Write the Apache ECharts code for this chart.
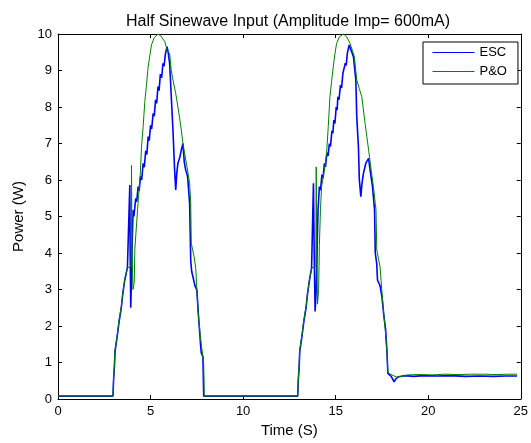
<!DOCTYPE html>
<html>
<head>
<meta charset="utf-8">
<script src="https://cdn.jsdelivr.net/npm/echarts@6/dist/echarts.min.js"></script>
<style>
html,body{margin:0;padding:0;background:#fff;}
#chart{width:531px;height:443px;}
</style>
</head>
<body>
<div id="chart"></div>
<script>
const titleText = 'Half Sinewave Input (Amplitude Imp= 600mA)';
const xName = 'Time (S)';
const yName = 'Power (W)';
const seriesNames = ['ESC', 'P&O'];
const xTicks = [0, 5, 10, 15, 20, 25];
const yTicks = [0, 1, 2, 3, 4, 5, 6, 7, 8, 9, 10];

// ESC (blue) – [time, power]
const escPoints = [
  [0,0.08],[2.97,0.08],[3.0,0.5],[3.05,0.9],[3.08,1.3],[3.2,1.72],[3.3,2.12],[3.42,2.5],[3.5,2.88],[3.6,3.24],[3.75,3.6],[3.85,3.62],
  [3.88,5.86],[3.9,4.0],[3.93,2.5],[3.97,3.3],[4.02,4.5],[4.06,5.18],[4.1,5.0],[4.2,5.5],[4.25,5.4],[4.33,5.82],[4.38,5.7],[4.46,6.1],[4.52,6.0],
  [4.6,6.46],[4.66,6.35],[4.74,6.8],[4.8,6.7],[4.87,7.19],[4.93,7.08],[5.0,7.5],[5.06,7.4],[5.14,7.83],[5.2,7.75],[5.27,8.2],[5.33,8.1],
  [5.4,8.56],[5.46,8.45],[5.53,8.9],[5.6,8.8],[5.67,9.2],[5.73,9.12],[5.8,9.45],[5.89,9.65],[5.95,9.5],[6.03,9.2],[6.12,8.28],[6.21,7.37],
  [6.3,6.27],[6.36,5.73],[6.42,6.2],[6.48,6.46],[6.57,6.6],[6.66,6.82],[6.75,7.0],[6.82,6.5],[6.9,6.27],[7.0,6.1],[7.11,5.37],
  [7.17,3.8],[7.22,3.5],[7.29,3.35],[7.4,3.1],[7.5,2.99],[7.6,2.2],[7.7,1.5],[7.74,1.26],[7.83,1.16],[7.87,0.08],
  [12.95,0.08],[12.98,0.5],[13.03,0.9],[13.06,1.3],[13.18,1.72],[13.28,2.12],[13.4,2.5],[13.48,2.88],[13.58,3.24],[13.7,3.6],[13.77,3.62],
  [13.8,5.91],[13.84,4.0],[13.89,2.4],[13.95,3.0],[14.02,4.6],[14.05,5.2],[14.12,5.82],[14.18,5.72],[14.26,6.15],[14.32,6.05],[14.39,6.46],
  [14.45,6.36],[14.53,6.75],[14.59,6.66],[14.66,7.0],[14.72,6.92],[14.8,7.35],[14.85,7.28],[14.9,7.64],[14.96,7.55],[15.03,8.0],[15.08,7.92],
  [15.12,8.28],[15.18,8.2],[15.26,8.6],[15.32,8.52],[15.39,8.92],[15.45,8.87],[15.52,9.2],[15.57,9.14],[15.63,9.47],[15.73,9.7],
  [15.96,9.38],[16.09,8.74],[16.14,7.73],[16.23,6.91],[16.28,6.0],[16.36,5.54],[16.42,5.9],[16.5,6.18],[16.63,6.46],[16.78,6.59],
  [16.86,6.27],[16.99,5.82],[17.1,5.18],[17.14,4.0],[17.22,3.7],[17.26,3.26],[17.4,3.1],[17.5,2.8],[17.6,2.3],[17.7,1.9],[17.77,1.3],
  [17.82,0.7],[18.0,0.62],[18.16,0.47],[18.25,0.55],[18.4,0.61],[18.76,0.64],[19.2,0.62],[19.8,0.64],[20.5,0.63],[21.2,0.64],
  [22.0,0.62],[22.8,0.63],[23.5,0.62],[24.2,0.63],[24.8,0.63]
];

// P&O (green) – [time, power]
const poPoints = [
  [0,0.08],[2.97,0.08],[3.0,0.52],[3.05,0.95],[3.08,1.34],[3.2,1.75],[3.3,2.16],[3.42,2.52],[3.5,2.9],[3.6,3.26],[3.75,3.6],[3.95,3.62],
  [3.97,6.4],[4.0,4.0],[4.05,3.0],[4.12,3.2],[4.15,4.1],[4.3,5.2],[4.35,5.54],[4.45,6.2],[4.51,6.91],[4.6,7.46],[4.69,8.15],[4.78,8.6],
  [4.87,9.1],[4.96,9.4],[5.05,9.7],[5.2,9.9],[5.4,10.0],[5.55,9.95],[5.77,9.79],[5.9,9.55],[6.03,9.47],[6.12,9.0],[6.21,8.74],[6.35,8.4],
  [6.48,8.0],[6.57,7.7],[6.66,7.37],[6.75,7.0],[6.84,6.73],[6.97,6.36],[7.11,5.91],[7.17,5.37],[7.2,4.27],[7.35,3.9],[7.44,3.59],
  [7.56,2.44],[7.62,2.1],[7.69,1.71],[7.8,1.26],[7.87,0.98],[7.9,0.08],
  [12.95,0.08],[12.98,0.52],[13.03,0.95],[13.06,1.34],[13.18,1.75],[13.28,2.16],[13.4,2.52],[13.48,2.9],[13.58,3.26],[13.72,3.6],[13.93,3.62],
  [13.95,6.36],[13.98,4.0],[14.02,2.6],[14.08,3.0],[14.12,4.2],[14.18,5.2],[14.24,5.82],[14.4,6.3],[14.51,6.73],[14.6,7.46],[14.69,8.28],
  [14.78,8.7],[14.87,9.1],[14.96,9.45],[15.05,9.74],[15.2,9.92],[15.42,10.0],[15.6,9.92],[15.78,9.74],[16.01,9.38],[16.14,8.74],
  [16.28,8.5],[16.41,8.28],[16.59,7.55],[16.78,6.82],[16.92,6.27],[17.04,5.82],[17.14,5.36],[17.18,5.18],[17.22,4.08],[17.4,3.62],
  [17.49,2.99],[17.58,2.44],[17.68,1.89],[17.77,1.3],[17.82,0.72],[18.04,0.66],[18.3,0.6],[18.6,0.62],[18.9,0.66],[19.5,0.67],
  [20.2,0.66],[20.9,0.68],[21.6,0.67],[22.3,0.68],[23.0,0.68],[23.7,0.67],[24.3,0.68],[24.8,0.68]
];

const chart = echarts.init(document.getElementById('chart'), null, {renderer: 'canvas'});
const FONT = 'Liberation Sans, Arial, sans-serif';
const axisCommon = {
  axisLine: {show: true, onZero: false, lineStyle: {color: '#000', width: 1}},
  axisTick: {show: true, inside: true, length: 4, lineStyle: {color: '#000'}},
  splitLine: {show: false}
};
chart.setOption({
  backgroundColor: '#fff',
  animation: false,
  title: {
    text: titleText,
    left: 283, top: 9, textAlign: 'center',
    textStyle: {fontFamily: FONT, fontSize: 16, fontWeight: 'normal', color: '#000'}
  },
  legend: {
    data: seriesNames,
    orient: 'vertical',
    left: 423, top: 42,
    padding: [4, 11, 6, 9],
    itemGap: 6,
    itemWidth: 42, itemHeight: 14,
    backgroundColor: '#fff',
    borderColor: '#000', borderWidth: 1, borderRadius: 0,
    itemStyle: {opacity: 0},
    lineStyle: {width: 1},
    textStyle: {fontFamily: FONT, fontSize: 13, color: '#000'}
  },
  grid: {left: 58, right: 10, top: 34, bottom: 44, containLabel: false},
  xAxis: [
    Object.assign({}, axisCommon, {
      type: 'value', position: 'bottom', min: xTicks[0], max: xTicks[xTicks.length - 1], interval: 5,
      name: xName, nameLocation: 'middle', nameGap: 17,
      nameTextStyle: {fontFamily: FONT, fontSize: 15, color: '#000'},
      axisLabel: {fontFamily: FONT, fontSize: 13, color: '#000', margin: 6}
    }),
    Object.assign({}, axisCommon, {
      type: 'value', position: 'top', min: xTicks[0], max: xTicks[xTicks.length - 1], interval: 5,
      axisLabel: {show: false}
    })
  ],
  yAxis: [
    Object.assign({}, axisCommon, {
      type: 'value', position: 'left', min: yTicks[0], max: yTicks[yTicks.length - 1], interval: 1,
      name: yName, nameLocation: 'middle', nameGap: 27,
      nameTextStyle: {fontFamily: FONT, fontSize: 15, color: '#000'},
      axisLabel: {fontFamily: FONT, fontSize: 13, color: '#000', margin: 6}
    }),
    Object.assign({}, axisCommon, {
      type: 'value', position: 'right', min: yTicks[0], max: yTicks[yTicks.length - 1], interval: 1,
      axisLabel: {show: false}
    })
  ],
  series: [
    {
      name: seriesNames[0], type: 'line', data: escPoints, xAxisIndex: 0, yAxisIndex: 0,
      symbol: 'none', lineStyle: {color: '#0000ff', width: 1.6}, itemStyle: {color: '#0000ff'}
    },
    {
      name: seriesNames[1], type: 'line', data: poPoints, xAxisIndex: 0, yAxisIndex: 0,
      symbol: 'none', lineStyle: {color: '#008000', width: 1}, itemStyle: {color: '#008000'}
    }
  ]
});
</script>
</body>
</html>
